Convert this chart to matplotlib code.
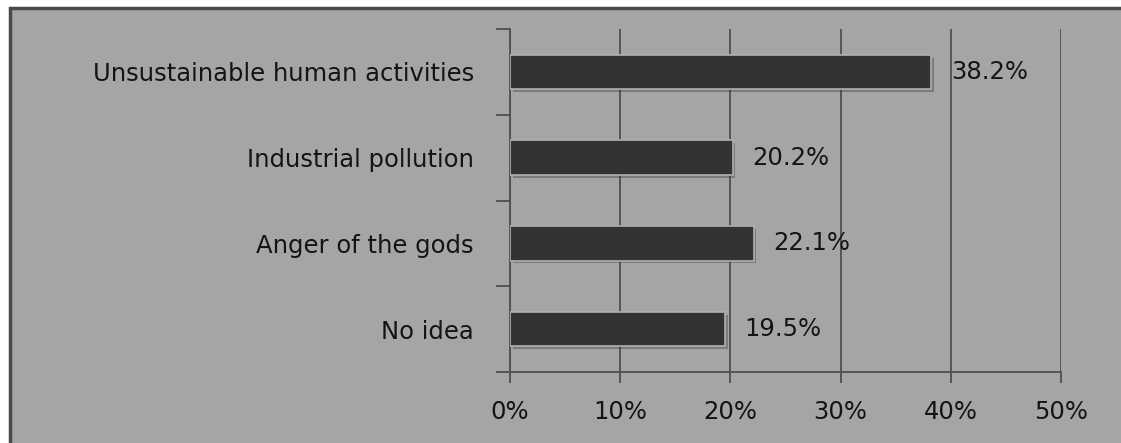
import matplotlib
matplotlib.use("Agg")
import matplotlib.pyplot as plt
import matplotlib.patheffects as pe
from matplotlib.patches import Rectangle
from matplotlib.ticker import FixedLocator, PercentFormatter

categories = ["No idea", "Anger of the gods", "Industrial pollution",
              "Unsustainable human activities"]
values = [19.5, 22.1, 20.2, 38.2]
x_ticks = [0, 10, 20, 30, 40, 50]

BG = "#a5a5a5"
BAR = "#333333"
LINE = "#4f4f4f"
TXT = "#141414"
W, H = 1121, 443
FS = 17.5

fig = plt.figure(figsize=(W / 100, H / 100), dpi=100)
fig.patch.set_facecolor("white")

# grey panel with dark frame on the left/top
fig.add_artist(Rectangle((9.5 / W, -0.2), 1.2, (H - 7.5) / H + 0.2, transform=fig.transFigure,
                         facecolor=BG, edgecolor="#4a4a4a", linewidth=2.5, zorder=0))

ax = fig.add_axes([510 / W, 1 - 372 / H, (1061 - 510) / W, (372 - 29) / H])
ax.set_facecolor("none")

ypos = list(range(len(categories)))
bars = ax.barh(ypos, values, height=0.4, color=BAR, edgecolor="#b0b0b0",
               linewidth=1.2, zorder=3)
for b in bars:
    b.set_path_effects([pe.SimplePatchShadow(offset=(2, -2), shadow_rgbFace="#303030",
                                             alpha=0.35), pe.Normal()])

for y, v in zip(ypos, values):
    ax.text(v + 1.8, y, f"{v:.1f}%", va="center", ha="left", fontsize=FS,
            color=TXT, zorder=4)

ax.set_xlim(0, 50)
ax.set_ylim(-0.5, len(categories) - 0.5)
ax.xaxis.set_major_locator(FixedLocator(x_ticks))
ax.xaxis.set_major_formatter(PercentFormatter(decimals=0))
ax.grid(axis="x", color=LINE, linewidth=1.3, zorder=1)

ax.set_yticks(ypos)
ax.set_yticklabels(categories)
ax.yaxis.set_minor_locator(FixedLocator([i - 0.5 for i in range(len(categories) + 1)]))
ax.tick_params(axis="y", which="major", length=0, pad=26, labelsize=FS, labelcolor=TXT)
ax.tick_params(axis="y", which="minor", length=10, width=1.3, color=LINE)
ax.tick_params(axis="x", length=8, width=1.3, color=LINE, pad=12, labelsize=FS,
               labelcolor=TXT)

for s in ("top", "right"):
    ax.spines[s].set_visible(False)
for s in ("left", "bottom"):
    ax.spines[s].set_color(LINE)
    ax.spines[s].set_linewidth(1.3)

fig.savefig("out.png", dpi=100)
